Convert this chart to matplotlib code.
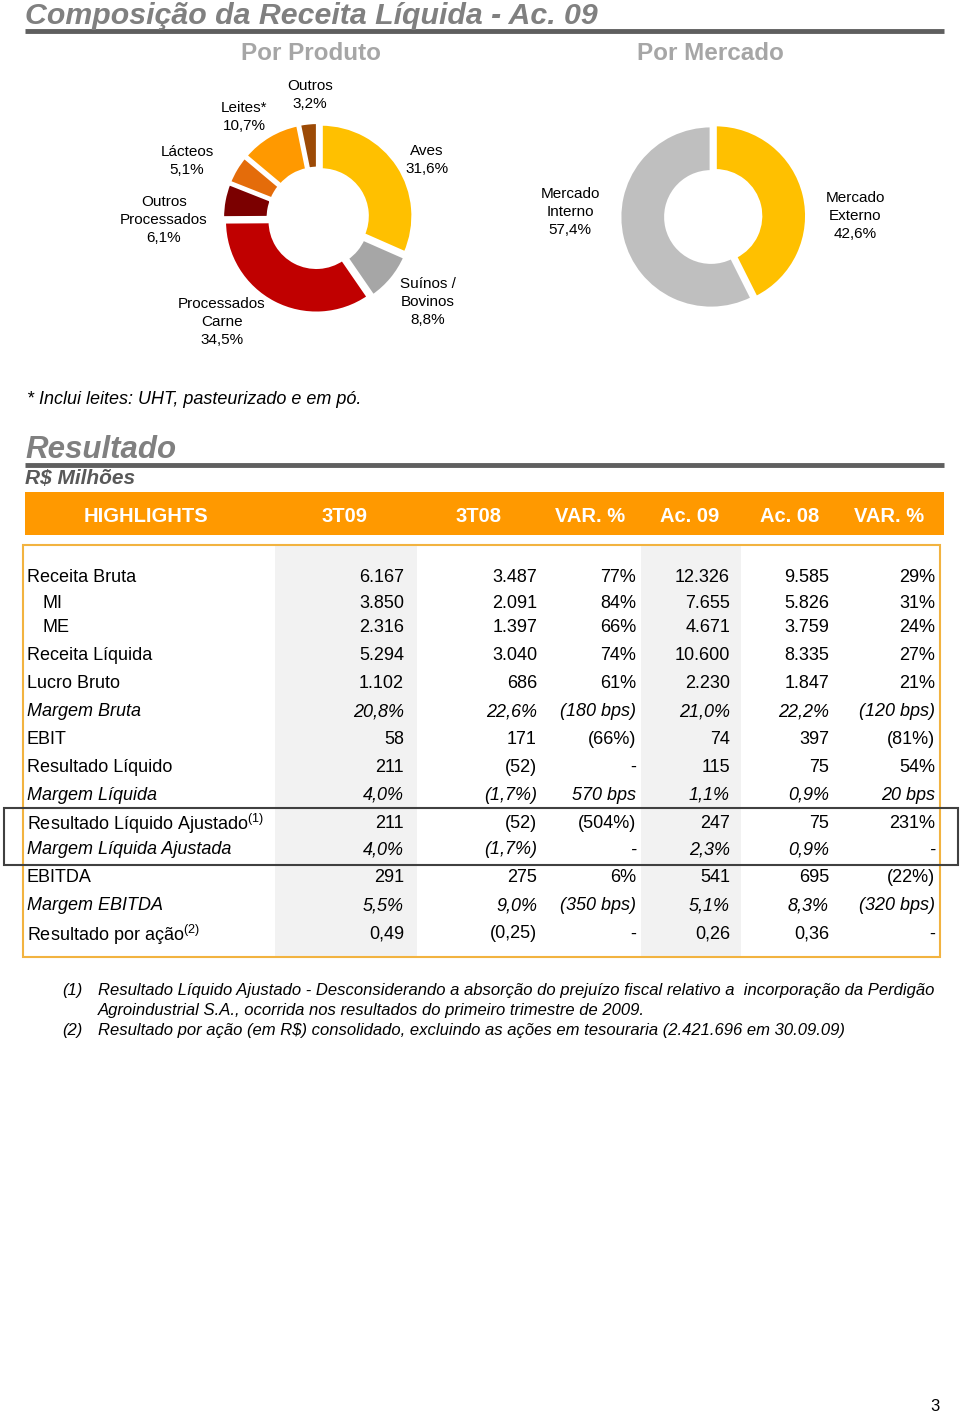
import numpy as np
import matplotlib.pyplot as plt
from matplotlib import font_manager
from matplotlib.patches import Rectangle

names = {f.name for f in font_manager.fontManager.ttflist}
FONT = 'Liberation Sans' if 'Liberation Sans' in names else 'DejaVu Sans'
plt.rcParams['font.family'] = [FONT, 'DejaVu Sans']
plt.rcParams['mathtext.fontset'] = 'custom'
plt.rcParams['mathtext.rm'] = FONT
plt.rcParams['mathtext.it'] = FONT + ':italic'

# dados - composicao da receita
produto_nomes = ['Aves', 'Suínos /\nBovinos', 'Processados\nCarne', 'Outros\nProcessados',
                 'Lácteos', 'Leites*', 'Outros']
produto_vals = [31.6, 8.8, 34.5, 6.1, 5.1, 10.7, 3.2]
produto_cores = ['#FFC000', '#A6A6A6', '#C00000', '#7B0000', '#E46C0A', '#FF9900', '#9C4A06']
produto_txt_pos = [(427, 160), (428, 302), (222, 322), (164, 220), (187, 161), (244, 117), (310, 95)]

mercado_nomes = ['Mercado\nExterno', 'Mercado\nInterno']
mercado_vals = [42.6, 57.4]
mercado_cores = ['#FFC000', '#BFBFBF']
mercado_txt_pos = [(855, 216), (570, 212)]

# tabela de resultados
cabecalho = ['HIGHLIGHTS', '3T09', '3T08', 'VAR. %', 'Ac. 09', 'Ac. 08', 'VAR. %']
linhas = ['Receita Bruta', '  MI', '  ME', 'Receita Líquida', 'Lucro Bruto', 'Margem Bruta', 'EBIT',
          'Resultado Líquido', 'Margem Líquida', r'Resultado Líquido Ajustado$^{(1)}$',
          'Margem Líquida Ajustada', 'EBITDA', 'Margem EBITDA', r'Resultado por ação$^{(2)}$']
c_3t09 = ['6.167', '3.850', '2.316', '5.294', '1.102', '20,8%', '58', '211', '4,0%', '211', '4,0%', '291', '5,5%', '0,49']
c_3t08 = ['3.487', '2.091', '1.397', '3.040', '686', '22,6%', '171', '(52)', '(1,7%)', '(52)', '(1,7%)', '275', '9,0%', '(0,25)']
c_var1 = ['77%', '84%', '66%', '74%', '61%', '(180 bps)', '(66%)', '-', '570 bps', '(504%)', '-', '6%', '(350 bps)', '-']
c_ac09 = ['12.326', '7.655', '4.671', '10.600', '2.230', '21,0%', '74', '115', '1,1%', '247', '2,3%', '541', '5,1%', '0,26']
c_ac08 = ['9.585', '5.826', '3.759', '8.335', '1.847', '22,2%', '397', '75', '0,9%', '75', '0,9%', '695', '8,3%', '0,36']
c_var2 = ['29%', '31%', '24%', '27%', '21%', '(120 bps)', '(81%)', '54%', '20 bps', '231%', '-', '(22%)', '(320 bps)', '-']
italicas = [5, 8, 10, 12]

W, H = 960, 1414
fig = plt.figure(figsize=(W / 100, H / 100), dpi=100)
ax = fig.add_axes([0, 0, 1, 1])
ax.set_xlim(0, W)
ax.set_ylim(H, 0)
ax.axis('off')

GRAY = '#808080'

ax.text(25, 24, 'Composição da Receita Líquida - Ac. 09', fontsize=21.8, fontweight='bold',
        fontstyle='italic', color=GRAY, va='baseline')
ax.plot([25, 944], [31, 31], color='#5f5f5f', lw=3.5, solid_capstyle='butt')
ax.text(311, 53, 'Por Produto', fontsize=17.5, fontweight='bold', color='#A6A6A6', ha='center', va='center')
ax.text(710, 53, 'Por Mercado', fontsize=17.5, fontweight='bold', color='#A6A6A6', ha='center', va='center')


def pie_axes(cx, cy, r, pad=1.15):
    a = fig.add_axes([(cx - pad * r) / W, 1 - (cy + pad * r) / H, 2 * pad * r / W, 2 * pad * r / H])
    a.set_xlim(-pad, pad)
    a.set_ylim(-pad, pad)
    a.axis('off')
    return a


def pct(v):
    return f'{v:.1f}%'.replace('.', ',')


a1 = pie_axes(318, 218, 92)
a1.pie(produto_vals, colors=produto_cores, startangle=90, counterclock=False, radius=1,
       explode=[0.04] * len(produto_vals),
       wedgeprops=dict(width=0.5, edgecolor='white', linewidth=2.5))
a1.set_xlim(-1.15, 1.15)
a1.set_ylim(-1.15, 1.15)
for nome, v, (x, y) in zip(produto_nomes, produto_vals, produto_txt_pos):
    ax.text(x, y, nome + '\n' + pct(v), fontsize=11, ha='center', va='center', linespacing=1.35)

a2 = pie_axes(711, 217, 91)
a2.pie(mercado_vals, colors=mercado_cores, startangle=90, counterclock=False, radius=1,
       explode=[0.05, 0], wedgeprops=dict(width=0.5, edgecolor='white', linewidth=2))
a2.set_xlim(-1.15, 1.15)
a2.set_ylim(-1.15, 1.15)
for nome, v, (x, y) in zip(mercado_nomes, mercado_vals, mercado_txt_pos):
    ax.text(x, y, nome + '\n' + pct(v), fontsize=11, ha='center', va='center', linespacing=1.35)

ax.text(27, 397, '* Inclui leites: UHT, pasteurizado e em pó.', fontsize=13, fontstyle='italic',
        va='center_baseline')

# Resultado
ax.text(25, 458, 'Resultado', fontsize=22.5, fontweight='bold', fontstyle='italic', color=GRAY, va='baseline')
ax.plot([25, 944], [465, 465], color='#5f5f5f', lw=3.5, solid_capstyle='butt')
ax.text(25, 479, 'R$ Milhões', fontsize=15, fontweight='bold', fontstyle='italic', color='#595959', va='center')

ax.add_patch(Rectangle((25, 492), 919, 43, color='#FF9900', lw=0))
head_x = [146, 344, 478, 590, 690, 790, 889]
for x, t in zip(head_x, cabecalho):
    ax.text(x, 514, t, fontsize=14.5, fontweight='bold', color='white', ha='center', va='center_baseline')

ax.add_patch(Rectangle((275, 546), 142, 410, color='#F2F2F2', lw=0))
ax.add_patch(Rectangle((641, 546), 100, 410, color='#F2F2F2', lw=0))
ax.add_patch(Rectangle((23, 545), 917, 412, fill=False, edgecolor='#F2B340', lw=1.5))

row_y = [576, 601, 626, 654, 682, 710, 737, 765, 793, 821, 848, 876, 904, 932]
col_x = [404, 537, 636, 730, 829, 935]
colunas = [c_3t09, c_3t08, c_var1, c_ac09, c_ac08, c_var2]
for i, (nome, y) in enumerate(zip(linhas, row_y)):
    st = 'italic' if i in italicas else 'normal'
    x0 = 43 if nome.startswith('  ') else 27
    ax.text(x0, y, nome.strip(), fontsize=13, fontstyle=st, va='center_baseline')
    for x, col in zip(col_x, colunas):
        ax.text(x, y, col[i], fontsize=13, fontstyle=st, ha='right', va='center_baseline')

ax.add_patch(Rectangle((4, 808), 954, 57, fill=False, edgecolor='#404040', lw=1.5))

notas = [('(1)', 'Resultado Líquido Ajustado - Desconsiderando a absorção do prejuízo fiscal relativo a  incorporação da Perdigão'),
         ('', 'Agroindustrial S.A., ocorrida nos resultados do primeiro trimestre de 2009.'),
         ('(2)', 'Resultado por ação (em R$) consolidado, excluindo as ações em tesouraria (2.421.696 em 30.09.09)')]
for (n, t), y in zip(notas, [989, 1009, 1029]):
    ax.text(62, y, n, fontsize=12, fontstyle='italic', va='center_baseline')
    ax.text(98, y, t, fontsize=12, fontstyle='italic', va='center_baseline')

ax.text(935, 1405, '3', fontsize=12, ha='center', va='center_baseline')

fig.savefig('out.png', dpi=100)
